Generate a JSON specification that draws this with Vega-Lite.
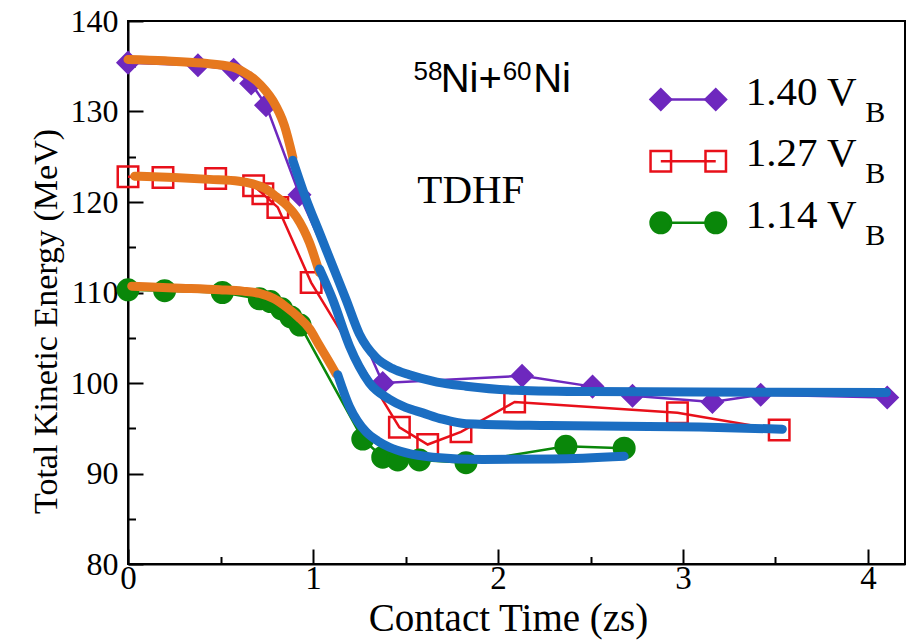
{
  "$schema": "https://vega.github.io/schema/vega-lite/v6.json",
  "width": 777,
  "height": 543,
  "autosize": "none",
  "padding": {"left": 128, "top": 21, "right": 2, "bottom": 77},
  "background": "white",
  "config": {
    "view": {"stroke": "black", "strokeWidth": 2},
    "axis": {
      "grid": false,
      "domainColor": "black",
      "domainWidth": 2,
      "tickColor": "black",
      "tickWidth": 2,
      "labelFont": "Liberation Serif",
      "titleFont": "Liberation Serif",
      "labelColor": "black",
      "titleColor": "black",
      "titleFontWeight": "normal"
    }
  },
  "datasets": {
    "tdhf": [
      {"vb": "1.40", "t": 0.0, "tke": 135.4},
      {"vb": "1.40", "t": 0.378, "tke": 135.1},
      {"vb": "1.40", "t": 0.571, "tke": 134.6},
      {"vb": "1.40", "t": 0.666, "tke": 133.1},
      {"vb": "1.40", "t": 0.746, "tke": 130.7},
      {"vb": "1.40", "t": 0.927, "tke": 120.8},
      {"vb": "1.40", "t": 1.377, "tke": 100.0},
      {"vb": "1.40", "t": 2.13, "tke": 100.8},
      {"vb": "1.40", "t": 2.511, "tke": 99.6},
      {"vb": "1.40", "t": 2.727, "tke": 98.6},
      {"vb": "1.40", "t": 3.159, "tke": 97.9},
      {"vb": "1.40", "t": 3.42, "tke": 98.7},
      {"vb": "1.40", "t": 4.104, "tke": 98.4},
      {"vb": "1.27", "t": 0.0, "tke": 122.8},
      {"vb": "1.27", "t": 0.189, "tke": 122.7},
      {"vb": "1.27", "t": 0.474, "tke": 122.6},
      {"vb": "1.27", "t": 0.679, "tke": 121.8},
      {"vb": "1.27", "t": 0.729, "tke": 120.9},
      {"vb": "1.27", "t": 0.81, "tke": 119.4},
      {"vb": "1.27", "t": 0.99, "tke": 111.1},
      {"vb": "1.27", "t": 1.467, "tke": 95.1},
      {"vb": "1.27", "t": 1.62, "tke": 93.2},
      {"vb": "1.27", "t": 1.8, "tke": 94.6},
      {"vb": "1.27", "t": 2.09, "tke": 97.9},
      {"vb": "1.27", "t": 2.97, "tke": 96.7},
      {"vb": "1.27", "t": 3.52, "tke": 94.8},
      {"vb": "1.14", "t": 0.0, "tke": 110.3},
      {"vb": "1.14", "t": 0.198, "tke": 110.2},
      {"vb": "1.14", "t": 0.51, "tke": 110.0},
      {"vb": "1.14", "t": 0.71, "tke": 109.3},
      {"vb": "1.14", "t": 0.77, "tke": 109.0},
      {"vb": "1.14", "t": 0.83, "tke": 108.2},
      {"vb": "1.14", "t": 0.88, "tke": 107.3},
      {"vb": "1.14", "t": 0.93, "tke": 106.4},
      {"vb": "1.14", "t": 1.269, "tke": 93.8},
      {"vb": "1.14", "t": 1.377, "tke": 91.8},
      {"vb": "1.14", "t": 1.458, "tke": 91.5},
      {"vb": "1.14", "t": 1.575, "tke": 91.5},
      {"vb": "1.14", "t": 1.827, "tke": 91.2},
      {"vb": "1.14", "t": 2.367, "tke": 93.0},
      {"vb": "1.14", "t": 2.682, "tke": 92.8}
    ],
    "fits": [
      {"vb": "1.40", "part": "entrance", "t": 0.0, "tke": 135.75},
      {"vb": "1.40", "part": "entrance", "t": 0.2, "tke": 135.6},
      {"vb": "1.40", "part": "entrance", "t": 0.4, "tke": 135.35},
      {"vb": "1.40", "part": "entrance", "t": 0.567, "tke": 134.9},
      {"vb": "1.40", "part": "entrance", "t": 0.63, "tke": 134.3},
      {"vb": "1.40", "part": "entrance", "t": 0.693, "tke": 133.4},
      {"vb": "1.40", "part": "entrance", "t": 0.74, "tke": 132.4},
      {"vb": "1.40", "part": "entrance", "t": 0.783, "tke": 131.2},
      {"vb": "1.40", "part": "entrance", "t": 0.846, "tke": 128.4},
      {"vb": "1.40", "part": "entrance", "t": 0.891, "tke": 124.9},
      {"vb": "1.40", "part": "exit", "t": 0.891, "tke": 124.6},
      {"vb": "1.40", "part": "exit", "t": 0.963, "tke": 120.3},
      {"vb": "1.40", "part": "exit", "t": 1.035, "tke": 116.6},
      {"vb": "1.40", "part": "exit", "t": 1.107, "tke": 112.9},
      {"vb": "1.40", "part": "exit", "t": 1.179, "tke": 109.2},
      {"vb": "1.40", "part": "exit", "t": 1.251, "tke": 105.4},
      {"vb": "1.40", "part": "exit", "t": 1.341, "tke": 102.8},
      {"vb": "1.40", "part": "exit", "t": 1.43, "tke": 101.6},
      {"vb": "1.40", "part": "exit", "t": 1.521, "tke": 100.9},
      {"vb": "1.40", "part": "exit", "t": 1.67, "tke": 100.1},
      {"vb": "1.40", "part": "exit", "t": 1.827, "tke": 99.65},
      {"vb": "1.40", "part": "exit", "t": 2.097, "tke": 99.2},
      {"vb": "1.40", "part": "exit", "t": 2.5, "tke": 99.05},
      {"vb": "1.40", "part": "exit", "t": 3.087, "tke": 99.0},
      {"vb": "1.40", "part": "exit", "t": 4.1, "tke": 98.95},
      {"vb": "1.27", "part": "entrance", "t": 0.036, "tke": 122.85},
      {"vb": "1.27", "part": "entrance", "t": 0.25, "tke": 122.7},
      {"vb": "1.27", "part": "entrance", "t": 0.441, "tke": 122.5},
      {"vb": "1.27", "part": "entrance", "t": 0.6, "tke": 122.3},
      {"vb": "1.27", "part": "entrance", "t": 0.675, "tke": 122.0},
      {"vb": "1.27", "part": "entrance", "t": 0.74, "tke": 121.5},
      {"vb": "1.27", "part": "entrance", "t": 0.8, "tke": 120.6},
      {"vb": "1.27", "part": "entrance", "t": 0.86, "tke": 119.6},
      {"vb": "1.27", "part": "entrance", "t": 0.909, "tke": 118.4},
      {"vb": "1.27", "part": "entrance", "t": 0.981, "tke": 115.5},
      {"vb": "1.27", "part": "entrance", "t": 1.035, "tke": 112.2},
      {"vb": "1.27", "part": "exit", "t": 1.035, "tke": 112.6},
      {"vb": "1.27", "part": "exit", "t": 1.107, "tke": 109.2},
      {"vb": "1.27", "part": "exit", "t": 1.197, "tke": 104.1},
      {"vb": "1.27", "part": "exit", "t": 1.25, "tke": 101.8},
      {"vb": "1.27", "part": "exit", "t": 1.305, "tke": 100.0},
      {"vb": "1.27", "part": "exit", "t": 1.413, "tke": 98.2},
      {"vb": "1.27", "part": "exit", "t": 1.5, "tke": 97.3},
      {"vb": "1.27", "part": "exit", "t": 1.593, "tke": 96.7},
      {"vb": "1.27", "part": "exit", "t": 1.7, "tke": 96.0},
      {"vb": "1.27", "part": "exit", "t": 1.827, "tke": 95.5},
      {"vb": "1.27", "part": "exit", "t": 2.277, "tke": 95.3},
      {"vb": "1.27", "part": "exit", "t": 3.087, "tke": 95.15},
      {"vb": "1.27", "part": "exit", "t": 3.537, "tke": 94.9},
      {"vb": "1.14", "part": "entrance", "t": 0.02, "tke": 110.7},
      {"vb": "1.14", "part": "entrance", "t": 0.25, "tke": 110.5},
      {"vb": "1.14", "part": "entrance", "t": 0.495, "tke": 110.3},
      {"vb": "1.14", "part": "entrance", "t": 0.62, "tke": 110.15},
      {"vb": "1.14", "part": "entrance", "t": 0.711, "tke": 109.9},
      {"vb": "1.14", "part": "entrance", "t": 0.79, "tke": 109.3},
      {"vb": "1.14", "part": "entrance", "t": 0.855, "tke": 108.4},
      {"vb": "1.14", "part": "entrance", "t": 0.92, "tke": 107.3},
      {"vb": "1.14", "part": "entrance", "t": 0.981, "tke": 106.0},
      {"vb": "1.14", "part": "entrance", "t": 1.03, "tke": 104.3},
      {"vb": "1.14", "part": "entrance", "t": 1.08, "tke": 102.6},
      {"vb": "1.14", "part": "entrance", "t": 1.125, "tke": 101.0},
      {"vb": "1.14", "part": "exit", "t": 1.134, "tke": 100.9},
      {"vb": "1.14", "part": "exit", "t": 1.197, "tke": 97.4},
      {"vb": "1.14", "part": "exit", "t": 1.24, "tke": 95.8},
      {"vb": "1.14", "part": "exit", "t": 1.287, "tke": 94.6},
      {"vb": "1.14", "part": "exit", "t": 1.35, "tke": 93.6},
      {"vb": "1.14", "part": "exit", "t": 1.413, "tke": 92.9},
      {"vb": "1.14", "part": "exit", "t": 1.5, "tke": 92.3},
      {"vb": "1.14", "part": "exit", "t": 1.647, "tke": 91.8},
      {"vb": "1.14", "part": "exit", "t": 1.917, "tke": 91.55},
      {"vb": "1.14", "part": "exit", "t": 2.3, "tke": 91.6},
      {"vb": "1.14", "part": "exit", "t": 2.682, "tke": 91.9}
    ],
    "series": [
      {"vb": "1.40", "label": "1.40 V"},
      {"vb": "1.27", "label": "1.27 V"},
      {"vb": "1.14", "label": "1.14 V"}
    ]
  },
  "layer": [
    {
      "layer": [
        {
          "data": {"name": "tdhf"},
          "mark": {"type": "line", "strokeWidth": 2.5},
          "encoding": {
            "x": {
              "field": "t", "type": "quantitative",
              "scale": {"domain": [0, 4.2], "nice": false, "zero": false},
              "axis": {
                "orient": "bottom", "values": [0, 1, 2, 3, 4], "tickSize": -15,
                "labelFontSize": 33, "labelPadding": 13, "labelFlush": false,
                "title": "Contact Time (zs)", "titleFontSize": 39,
                "titleBaseline": "alphabetic", "titleY": 66, "titleX": 380
              }
            },
            "y": {
              "field": "tke", "type": "quantitative",
              "scale": {"domain": [80, 140], "nice": false, "zero": false},
              "axis": {
                "orient": "left", "values": [80, 90, 100, 110, 120, 130, 140], "tickSize": -15,
                "labelFontSize": 32, "labelPadding": 25, "labelFlush": false,
                "title": "Total Kinetic Energy (MeV)", "titleFontSize": 34,
                "titleBaseline": "alphabetic", "titleX": -72, "titleY": 300, "titleAngle": -90
              }
            },
            "color": {
              "field": "vb", "type": "nominal",
              "scale": {"domain": ["1.40", "1.27", "1.14"], "range": ["#6e28be", "#e8101a", "#0a870a"]},
              "legend": null
            }
          }
        },
        {
          "data": {"name": "tdhf"},
          "mark": {"type": "point", "filled": false, "strokeWidth": 2.5, "size": 420, "opacity": 1},
          "encoding": {
            "x": {"field": "t", "type": "quantitative", "axis": null},
            "y": {"field": "tke", "type": "quantitative", "axis": null},
            "color": {"field": "vb", "type": "nominal", "legend": null},
            "fill": {
              "field": "vb", "type": "nominal",
              "scale": {"domain": ["1.40", "1.27", "1.14"], "range": ["#6e28be", "transparent", "#0a870a"]},
              "legend": null
            },
            "shape": {
              "field": "vb", "type": "nominal",
              "scale": {"domain": ["1.40", "1.27", "1.14"], "range": ["diamond", "square", "circle"]},
              "legend": null
            }
          }
        },
        {
          "data": {"name": "fits"},
          "mark": {"type": "line", "strokeWidth": 9, "strokeCap": "round", "interpolate": "monotone"},
          "encoding": {
            "x": {
              "field": "t", "type": "quantitative",
              "axis": {
                "orient": "bottom", "values": [0.5, 1.5, 2.5, 3.5], "tickSize": -7.5,
                "labels": false, "domain": false, "title": null
              }
            },
            "y": {
              "field": "tke", "type": "quantitative",
              "axis": {
                "orient": "left", "values": [85, 95, 105, 115, 125, 135], "tickSize": -7.5,
                "labels": false, "domain": false, "title": null
              }
            },
            "detail": {"field": "vb"},
            "stroke": {
              "field": "part", "type": "nominal",
              "scale": {"domain": ["entrance", "exit"], "range": ["#e6781e", "#1b6ec2"]},
              "legend": null
            }
          }
        },
        {
          "data": {"values": [{}]},
          "layer": [
            {
              "mark": {"type": "text", "text": "58", "font": "Liberation Sans", "fontSize": 26, "align": "left", "baseline": "alphabetic", "color": "black"},
              "encoding": {
                "x": {"datum": 1.543, "type": "quantitative", "axis": null},
                "y": {"datum": 133.5, "type": "quantitative", "axis": null}
              }
            },
            {
              "mark": {"type": "text", "text": "Ni+", "font": "Liberation Sans", "fontSize": 40, "align": "left", "baseline": "alphabetic", "color": "black"},
              "encoding": {
                "x": {"datum": 1.69, "type": "quantitative", "axis": null},
                "y": {"datum": 132.1, "type": "quantitative", "axis": null}
              }
            },
            {
              "mark": {"type": "text", "text": "60", "font": "Liberation Sans", "fontSize": 26, "align": "left", "baseline": "alphabetic", "color": "black"},
              "encoding": {
                "x": {"datum": 2.025, "type": "quantitative", "axis": null},
                "y": {"datum": 133.5, "type": "quantitative", "axis": null}
              }
            },
            {
              "mark": {"type": "text", "text": "Ni", "font": "Liberation Sans", "fontSize": 40, "align": "left", "baseline": "alphabetic", "color": "black"},
              "encoding": {
                "x": {"datum": 2.19, "type": "quantitative", "axis": null},
                "y": {"datum": 132.1, "type": "quantitative", "axis": null}
              }
            },
            {
              "mark": {"type": "text", "text": "TDHF", "font": "Liberation Serif", "fontSize": 41, "align": "left", "baseline": "alphabetic", "color": "black"},
              "encoding": {
                "x": {"datum": 1.564, "type": "quantitative", "axis": null},
                "y": {"datum": 119.9, "type": "quantitative", "axis": null}
              }
            }
          ]
        }
      ],
      "resolve": {"axis": {"x": "independent", "y": "independent"}}
    },
    {
      "data": {"name": "series"},
      "encoding": {
        "y": {
          "field": "vb", "type": "nominal",
          "scale": {"type": "point", "domain": ["1.40", "1.27", "1.14"], "range": [78.5, 201.8], "padding": 0},
          "axis": null
        },
        "color": {"field": "vb", "type": "nominal", "legend": null}
      },
      "layer": [
        {
          "mark": {"type": "rule", "strokeWidth": 2.5},
          "encoding": {
            "x": {"datum": 2.88, "type": "quantitative", "axis": null},
            "x2": {"datum": 3.177}
          }
        },
        {
          "mark": {"type": "point", "filled": false, "strokeWidth": 2.5, "size": 420, "opacity": 1},
          "encoding": {
            "x": {"datum": 2.88, "type": "quantitative", "axis": null},
            "fill": {"field": "vb", "type": "nominal", "legend": null},
            "shape": {"field": "vb", "type": "nominal", "legend": null}
          }
        },
        {
          "mark": {"type": "point", "filled": false, "strokeWidth": 2.5, "size": 420, "opacity": 1},
          "encoding": {
            "x": {"datum": 3.177, "type": "quantitative", "axis": null},
            "fill": {"field": "vb", "type": "nominal", "legend": null},
            "shape": {"field": "vb", "type": "nominal", "legend": null}
          }
        },
        {
          "mark": {"type": "text", "font": "Liberation Serif", "fontSize": 41, "align": "left", "baseline": "alphabetic", "dy": 5},
          "encoding": {
            "x": {"datum": 3.339, "type": "quantitative", "axis": null},
            "text": {"field": "label", "type": "nominal"},
            "color": {"value": "black"}
          }
        },
        {
          "mark": {"type": "text", "text": "B", "font": "Liberation Serif", "fontSize": 30, "align": "left", "baseline": "alphabetic", "dy": 22},
          "encoding": {
            "x": {"datum": 3.985, "type": "quantitative", "axis": null},
            "color": {"value": "black"}
          }
        }
      ]
    }
  ],
  "resolve": {"scale": {"y": "independent"}}
}
